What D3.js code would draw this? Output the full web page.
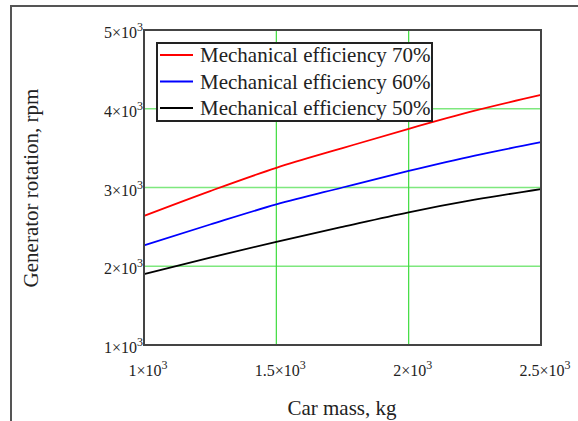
<!DOCTYPE html>
<html>
<head>
<meta charset="utf-8">
<style>
  body { margin: 0; background: #fff; }
  svg text { font-family: "Liberation Serif", "Times New Roman", serif; fill: #222; }
</style>
</head>
<body>
<svg id="chart" width="578" height="421"></svg>
<script src="https://d3js.org/d3.v7.min.js"></script>
<script>
// car mass, kg
let mass = [1000, 1250, 1500, 1750, 2000, 2250, 2500]
// generator rotation, rpm
let eff70 = [2640, 2955, 3250, 3500, 3745, 3975, 4175]
let eff60 = [2265, 2530, 2785, 3000, 3210, 3405, 3575]
let eff50 = [1900, 2110, 2310, 2500, 2685, 2845, 2980]

let seriesNames = ["Mechanical efficiency 70%", "Mechanical efficiency 60%", "Mechanical efficiency 50%"]
let seriesColors = ["#ff0000", "#0000ff", "#000000"]
let seriesValues = [eff70, eff60, eff50]

let xTicks = [1000, 1500, 2000, 2500]
let yTicks = [1000, 2000, 3000, 4000, 5000]

let svg = d3.select("#chart")
let plot = {left: 144, right: 541, top: 30, bottom: 345}

let xScale = d3.scaleLinear().domain([1000, 2500]).range([plot.left, plot.right])
let yScale = d3.scaleLinear().domain([1000, 5000]).range([plot.bottom, plot.top])

// outer frame
svg.append("path")
    .attr("d", "M11,421 L11,6 L578,6")
    .attr("fill", "none")
    .attr("stroke", "#555")
    .attr("stroke-width", 2)

// grid
svg.append("g").selectAll("line")
    .data(yTicks.slice(1, -1))
    .join("line")
    .attr("x1", plot.left).attr("x2", plot.right)
    .attr("y1", d => yScale(d)).attr("y2", d => yScale(d))
    .attr("stroke", "#7ee87e").attr("stroke-width", 1.5)

svg.append("g").selectAll("line")
    .data(xTicks.slice(1, -1))
    .join("line")
    .attr("y1", plot.top).attr("y2", plot.bottom)
    .attr("x1", d => xScale(d)).attr("x2", d => xScale(d))
    .attr("stroke", "#3ddc3d").attr("stroke-width", 1.2)

// curves
let line = d3.line()
    .x((d, i) => xScale(mass[i]))
    .y(d => yScale(d))
    .curve(d3.curveMonotoneX)

svg.append("g").selectAll("path")
    .data(seriesValues)
    .join("path")
    .attr("d", d => line(d))
    .attr("fill", "none")
    .attr("stroke", (d, i) => seriesColors[i])
    .attr("stroke-width", 1.8)

// plot box
svg.append("rect")
    .attr("x", plot.left).attr("y", plot.top)
    .attr("width", plot.right - plot.left).attr("height", plot.bottom - plot.top)
    .attr("fill", "none")
    .attr("stroke", "#444")
    .attr("stroke-width", 2)

function sciLabel(sel, v) {
    let m = v / 1000
    sel.append("tspan").text(m + "\u00d710")
    sel.append("tspan").attr("dy", -7).attr("font-size", 12).text("3")
}

// y tick labels
svg.append("g").selectAll("text")
    .data(yTicks)
    .join("text")
    .attr("x", plot.left - 1)
    .attr("y", d => yScale(d) + 8)
    .attr("text-anchor", "end")
    .attr("font-size", 16)
    .each(function(d) { sciLabel(d3.select(this), d) })

// x tick labels
svg.append("g").selectAll("text")
    .data(xTicks)
    .join("text")
    .attr("x", d => xScale(d) + 4)
    .attr("y", 376)
    .attr("text-anchor", "middle")
    .attr("font-size", 16)
    .each(function(d) { sciLabel(d3.select(this), d) })

// axis titles
svg.append("text")
    .attr("x", 342).attr("y", 415)
    .attr("text-anchor", "middle")
    .attr("font-size", 21)
    .text("Car mass, kg")

svg.append("text")
    .attr("transform", "translate(38,188) rotate(-90)")
    .attr("text-anchor", "middle")
    .attr("font-size", 21)
    .text("Generator rotation, rpm")

// legend
let legend = svg.append("g")
legend.append("rect")
    .attr("x", 157).attr("y", 43)
    .attr("width", 275).attr("height", 78)
    .attr("fill", "#fff")
    .attr("stroke", "#222")
    .attr("stroke-width", 2)

let items = legend.selectAll("g.item")
    .data(seriesNames)
    .join("g")
    .attr("class", "item")
    .attr("transform", (d, i) => `translate(0,${55 + i * 26.5})`)

items.append("line")
    .attr("x1", 160).attr("x2", 193)
    .attr("y1", 0).attr("y2", 0)
    .attr("stroke", (d, i) => seriesColors[i])
    .attr("stroke-width", 1.8)

items.append("text")
    .attr("x", 200).attr("y", 7)
    .attr("font-size", 21)
    .text(d => d)
</script>
</body>
</html>
